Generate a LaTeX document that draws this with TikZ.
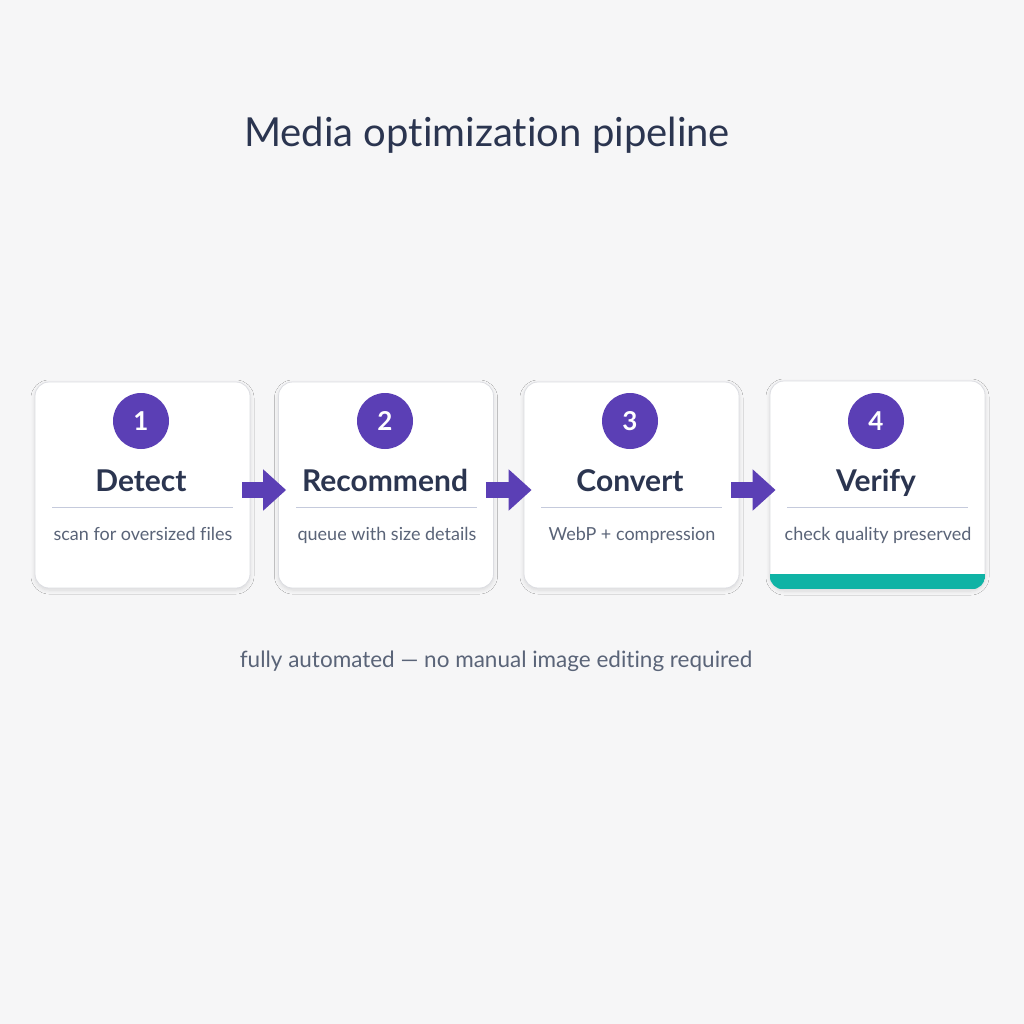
\documentclass[tikz,border=0pt]{standalone}
\usepackage{fontspec}
\setmainfont{Lato}[Ligatures={NoCommon,NoRare},Contextuals={NoAlternate}]
\usetikzlibrary{arrows.meta,shadows.blur}
\definecolor{bg}{HTML}{F6F6F7}
\definecolor{navy}{HTML}{2B3550}
\definecolor{slate}{HTML}{5A6478}
\definecolor{purp}{HTML}{5B3FB5}
\definecolor{teal}{HTML}{0FB3A5}
\definecolor{cardline}{HTML}{DCDDE2}
\definecolor{sepline}{HTML}{C5CADC}
\tikzset{
  card/.style={draw=cardline, line width=0.8pt, fill=white, rounded corners=14pt,
    minimum width=215pt, minimum height=206pt, inner sep=0pt,
    blur shadow={shadow blur steps=6, shadow xshift=0pt, shadow yshift=-2pt, shadow opacity=12, shadow blur radius=4pt}},
  num/.style={circle, fill=purp, minimum size=56pt, inner sep=0pt, text=white, font=\fontsize{26}{30}\selectfont\bfseries},
  steptitle/.style={text=navy, font=\fontsize{30}{34}\selectfont\bfseries, inner sep=0pt, anchor=base},
  stepsub/.style={text=slate, font=\fontsize{18}{21}\selectfont, inner sep=0pt, anchor=base},
  sepl/.style={draw=sepline, line width=0.8pt},
  flow/.style={draw=purp, line width=16pt, -{Triangle[length=23pt,width=40pt]}, shorten >=0pt},
}
\begin{document}
\begin{tikzpicture}[x=1pt,y=-1pt]
\fill[bg] (0,0) rectangle (1024,1024);
\useasboundingbox (0,0) rectangle (1024,1024);

\node[text=navy, font=\fontsize{40}{46}\selectfont, inner sep=0pt] (title) at (487,135) {Media optimization pipeline};

\node[card] (c1) at (142.5,485) {};
\node[card] (c2) at (386,485) {};
\node[card] (c3) at (631.5,485) {};
\node[card, minimum height=208pt] (c4) at (877.5,485) {};
\begin{scope}
  \clip[rounded corners=14pt] (c4.north west) rectangle (c4.south east);
  \fill[teal] ([yshift=15pt]c4.south west) rectangle (c4.south east);
\end{scope}

\foreach \i/\x/\t/\s in {1/141/Detect/scan for oversized files,
                         2/385/Recommend/queue with size details,
                         3/630/Convert/WebP + compression,
                         4/876/Verify/check quality preserved}{
  \node[num] (n\i) at (\x,421) {\i};
  \node[steptitle] (t\i) at (\x,491) {\t};
  \node[stepsub] (s\i) at (\x+2,540) {\s};
  \draw[sepl] (\x-89,507) -- (\x+92,507);
}

\draw[flow] ([xshift=-8pt,yshift=-5pt]c1.east) -- ([xshift=8pt,yshift=-5pt]c2.west);
\draw[flow] ([xshift=-8pt,yshift=-5pt]c2.east) -- ([xshift=8pt,yshift=-5pt]c3.west);
\draw[flow] ([xshift=-8pt,yshift=-5pt]c3.east) -- ([xshift=6pt,yshift=-5pt]c4.west);

\node[text=slate, font=\fontsize{22.5}{26}\selectfont, inner sep=0pt] (foot) at (496,661) {fully automated — no manual image editing required};
\end{tikzpicture}
\end{document}
